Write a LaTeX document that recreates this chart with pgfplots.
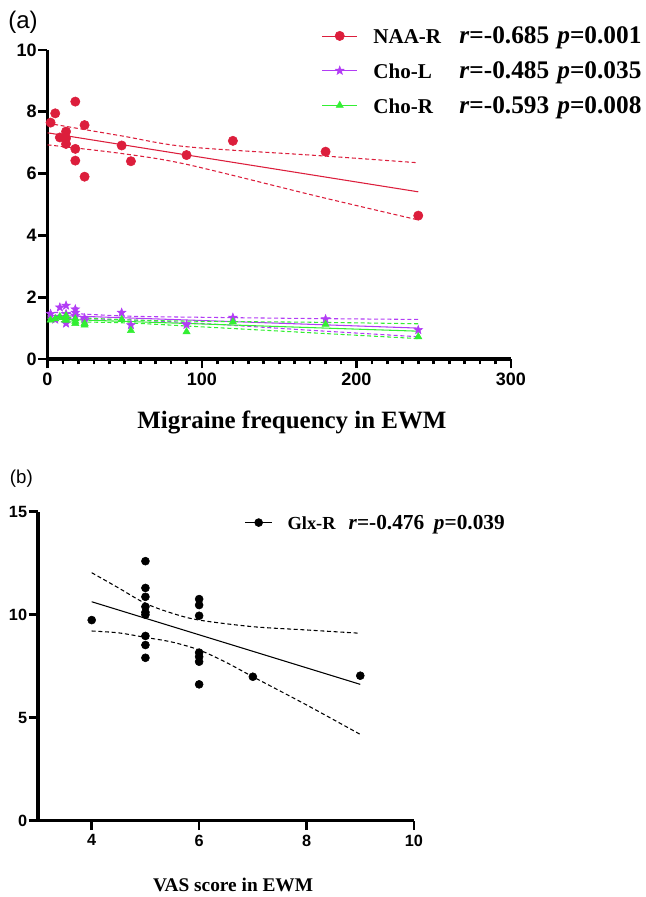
\documentclass[border=0pt]{standalone}
\usepackage{fontspec}
\setmainfont{Liberation Serif}
\setsansfont{Liberation Sans}
\usepackage{pgfplots}
\pgfplotsset{compat=1.18}

\definecolor{naared}{HTML}{DC1E3C}
\definecolor{cholpur}{HTML}{B23CF5}
\definecolor{chorgrn}{HTML}{33EE33}

% filled five-point star
\pgfdeclareplotmark{fstar}{%
  \pgfpathmoveto{\pgfpointpolar{90}{\pgfplotmarksize}}%
  \pgfpathlineto{\pgfpointpolar{126}{0.42\pgfplotmarksize}}%
  \pgfpathlineto{\pgfpointpolar{162}{\pgfplotmarksize}}%
  \pgfpathlineto{\pgfpointpolar{198}{0.42\pgfplotmarksize}}%
  \pgfpathlineto{\pgfpointpolar{234}{\pgfplotmarksize}}%
  \pgfpathlineto{\pgfpointpolar{270}{0.42\pgfplotmarksize}}%
  \pgfpathlineto{\pgfpointpolar{306}{\pgfplotmarksize}}%
  \pgfpathlineto{\pgfpointpolar{342}{0.42\pgfplotmarksize}}%
  \pgfpathlineto{\pgfpointpolar{18}{\pgfplotmarksize}}%
  \pgfpathlineto{\pgfpointpolar{54}{0.42\pgfplotmarksize}}%
  \pgfpathclose
  \pgfusepathqfillstroke
}

\newcommand{\legA}[3]{\bfseries
  \makebox[64.5pt][l]{\fontsize{15.8}{18}\selectfont #1}%
  \makebox[73.5pt][l]{\fontsize{19}{22}\selectfont\textit{r}=#2}%
  {\fontsize{19}{22}\selectfont\textit{p}=#3}}
\newcommand{\legB}[3]{\bfseries
  \makebox[45.75pt][l]{\fontsize{13.8}{16}\selectfont #1}%
  \makebox[64pt][l]{\fontsize{16}{19}\selectfont\textit{r}=#2}%
  {\fontsize{16}{19}\selectfont\textit{p}=#3}}

\pgfplotsset{
  ci/.style={line width=0.8pt, dash pattern=on 3pt off 2pt, mark=none},
  fit/.style={line width=0.8pt, mark=none},
  base/.style={scale only axis, axis lines*=left,
    axis line style={line width=2.4pt, black},
    every tick/.append style={line width=2pt, black},
    tick align=outside, major tick length=7pt},
}

\begin{document}
\begin{tikzpicture}
\useasboundingbox (0,0) rectangle (484.5pt,672.75pt);

% ---------------- panel (a)
\begin{axis}[base,
    at={(35.625pt,403.5pt)}, anchor=south west,
    width=347.6pt, height=231.75pt,
    xmin=0, xmax=300, ymin=0, ymax=10,
    xtick={0,100,200,300}, xticklabels={0,100,200,300},
    extra x ticks={10,20,30,40,50,60,70,80,90,110,120,130,140,150,160,170,180,190,
      210,220,230,240,250,260,270,280,290},
    extra x tick labels={},
    extra x tick style={major tick length=4pt},
    ytick={0,2,4,6,8,10}, yticklabels={0,2,4,6,8,10},
    ticklabel style={font=\sffamily\bfseries\fontsize{13.5}{15}\selectfont},
    yticklabel style={inner xsep=1pt},
    xlabel={Migraine frequency in EWM},
    xlabel style={font=\bfseries\fontsize{18.7}{21}\selectfont,
      at={(axis description cs:0.5275,-0.207)}, anchor=center},
    legend image code/.code={\draw[mark repeat=2,mark phase=2,#1,sharp plot]
      plot coordinates {(0pt,0pt) (13pt,0pt) (26pt,0pt)};
      \path (37pt,0pt);},
    legend style={draw=none, fill=none, at={(axis description cs:0.592,1.08)},
      anchor=north west, inner sep=0pt, row sep=10.5pt,
      nodes={inner sep=1pt, text depth=0.2ex}},
    legend cell align=left,
    clip=false,
  ]
  % NAA-R
  \addplot[only marks, mark=*, mark size=3.5pt, color=naared]
    coordinates {(2,7.65) (5,7.95) (8,7.17) (12,7.36) (12,7.14) (12,6.96)
      (18,8.33) (18,6.80) (18,6.42) (24,7.57) (24,5.90) (48,6.91) (54,6.40)
      (90,6.60) (120,7.06) (180,6.71) (240,4.64)};
  \addlegendentry{\legA{NAA-R}{-0.685}{0.001}}
  % Cho-L
  \addplot[only marks, mark=fstar, mark size=3.4pt, color=cholpur]
    coordinates {(2,1.46) (5,1.28) (8,1.67) (12,1.73) (12,1.46) (12,1.15)
      (18,1.61) (18,1.50) (18,1.40) (24,1.32) (24,1.25) (48,1.50) (54,1.10)
      (90,1.11) (120,1.34) (180,1.29) (240,0.94)};
  \addlegendentry{\legA{Cho-L}{-0.485}{0.035}}
  % Cho-R
  \addplot[only marks, mark=triangle*, mark size=3.1pt, color=chorgrn]
    coordinates {(2,1.26) (5,1.30) (8,1.37) (12,1.32) (12,1.40) (12,1.25)
      (18,1.15) (18,1.30) (18,1.22) (24,1.10) (24,1.15) (48,1.28) (54,0.92)
      (90,0.88) (120,1.20) (180,1.12) (240,0.72)};
  \addlegendentry{\legA{Cho-R}{-0.593}{0.008}}

  % regression lines and 95% bands
  \addplot[fit, naared, forget plot] coordinates {(0,7.32) (240,5.41)};
  \addplot[ci, naared, smooth, forget plot] coordinates
    {(0,7.63) (48,7.22) (90,6.87) (176,6.58) (240,6.35)};
  \addplot[ci, naared, smooth, forget plot] coordinates
    {(0,6.93) (48,6.65) (90,6.30) (176,5.25) (240,4.50)};

  \addplot[fit, cholpur, forget plot] coordinates {(0,1.42) (240,1.00)};
  \addplot[ci, cholpur, smooth, forget plot] coordinates
    {(0,1.52) (50,1.39) (100,1.35) (170,1.31) (240,1.28)};
  \addplot[ci, cholpur, smooth, forget plot] coordinates
    {(0,1.32) (50,1.27) (100,1.15) (170,0.93) (240,0.72)};

  \addplot[fit, chorgrn, forget plot] coordinates {(0,1.30) (240,0.90)};
  \addplot[ci, chorgrn, smooth, forget plot] coordinates
    {(0,1.39) (50,1.27) (100,1.22) (170,1.19) (240,1.14)};
  \addplot[ci, chorgrn, smooth, forget plot] coordinates
    {(0,1.21) (50,1.17) (100,1.04) (170,0.85) (240,0.66)};
\end{axis}

% ---------------- panel (b)
\begin{axis}[base,
    at={(28.5pt,57.2pt)}, anchor=south west,
    width=282pt, height=231.75pt,
    xmin=3, xmax=10, ymin=0, ymax=15,
    xtick={4,6,8,10}, xticklabels={4,6,8,10},
    ytick={0,5,10,15}, yticklabels={0,5,10,15},
    ticklabel style={font=\sffamily\bfseries\fontsize{12.2}{14}\selectfont},
    yticklabel style={inner xsep=1pt},
    xlabel={VAS score in EWM},
    xlabel style={font=\bfseries\fontsize{14.5}{17}\selectfont,
      at={(axis description cs:0.519,-0.208)}, anchor=center},
    legend image code/.code={\draw[mark repeat=2,mark phase=2,#1,sharp plot]
      plot coordinates {(0pt,0pt) (10pt,0pt) (20pt,0pt)};
      \path (30.5pt,0pt);},
    legend style={draw=none, fill=none, at={(axis description cs:0.55,0.995)},
      anchor=north west, inner sep=0pt,
      nodes={inner sep=1pt, text depth=0.2ex}},
    legend cell align=left,
    clip=false,
  ]
  \addplot[only marks, mark=*, mark size=3pt, color=black]
    coordinates {(4,9.74) (5,12.60) (5,11.30) (5,10.87) (5,10.39) (5,10.12)
      (5,10.00) (5,8.97) (5,8.53) (5,7.91) (6,10.76) (6,10.47) (6,9.95)
      (6,8.16) (6,7.96) (6,7.72) (6,6.62) (7,6.99) (9,7.04)};
  \addlegendentry{\legB{Glx-R}{-0.476}{0.039}}

  \addplot[fit, black, forget plot] coordinates {(4,10.63) (9,6.62)};
  \addplot[ci, black, smooth, forget plot] coordinates
    {(4,12.04) (4.5,11.30) (5,10.55) (5.5,10.07) (6,9.74) (7,9.42) (8,9.26) (9,9.10)};
  \addplot[ci, black, smooth, forget plot] coordinates
    {(4,9.21) (4.5,9.12) (5,8.90) (5.5,8.67) (6,8.29) (6.5,7.69) (7,6.99) (8,5.62) (9,4.19)};
\end{axis}

\node[font=\sffamily\fontsize{18}{20}\selectfont] at (17.25pt,656.25pt) {(a)};
\node[font=\sffamily\fontsize{14}{16}\selectfont] at (16pt,314pt) {(b)};
\end{tikzpicture}
\end{document}
